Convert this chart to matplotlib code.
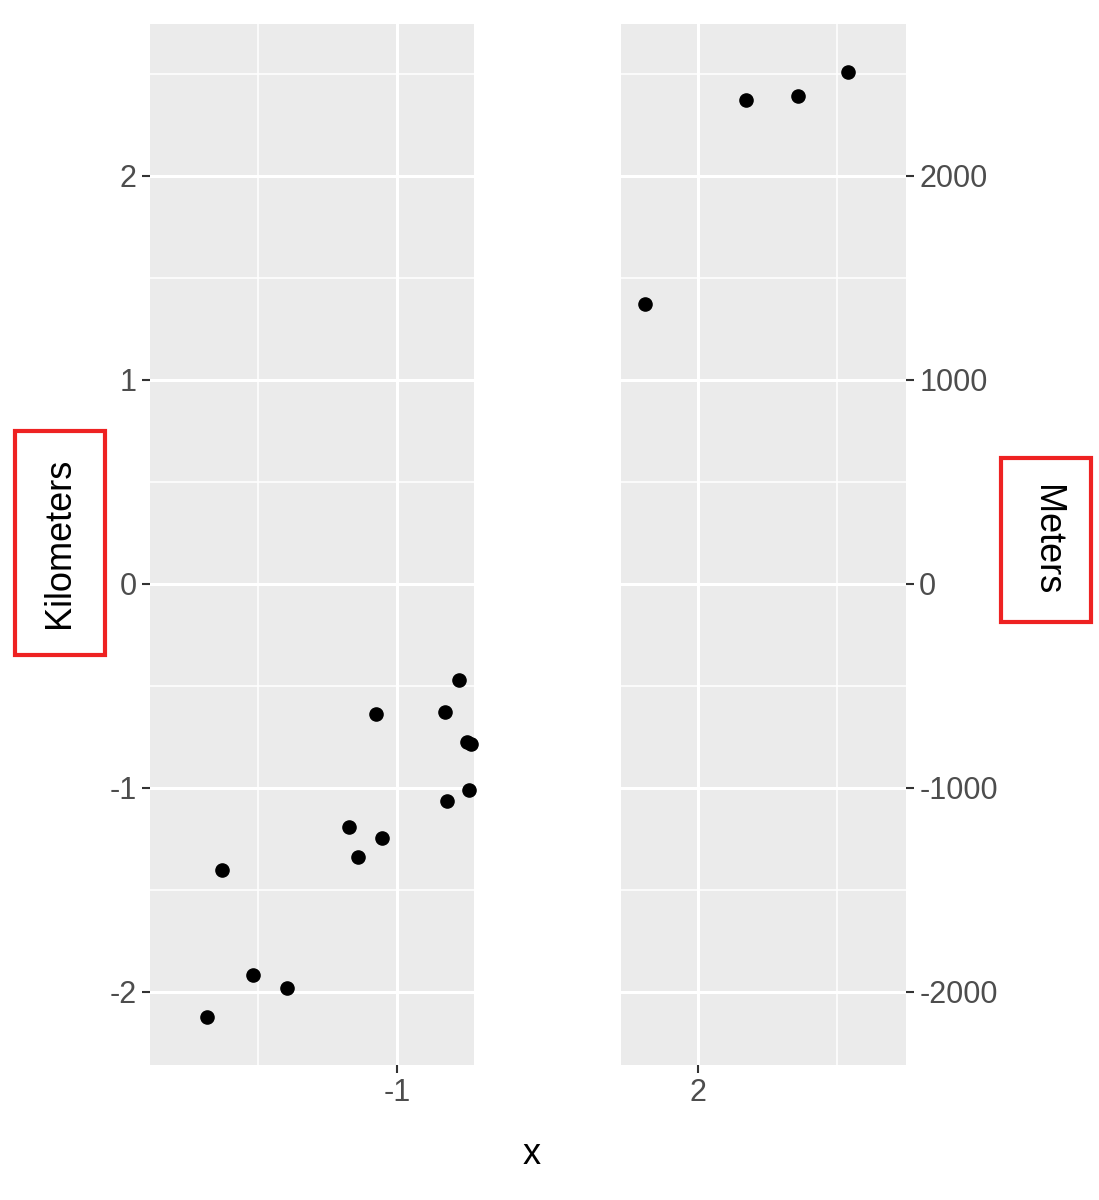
import numpy as np
import matplotlib.pyplot as plt

plt.rcParams["font.family"] = ["Liberation Sans", "DejaVu Sans"]
plt.rcParams["axes.unicode_minus"] = False

x_left = [-1.683, -1.629, -1.518, -1.396, -1.173, -1.140, -1.076, -1.054, -0.827, -0.820, -0.777, -0.748, -0.734, -0.741]
y_left = [-2.123, -1.402, -1.917, -1.980, -1.191, -1.338, -0.637, -1.245, -0.627, -1.064, -0.471, -0.775, -0.784, -1.010]
x_right = [1.809, 2.173, 2.360, 2.540]
y_right = [1.373, 2.373, 2.392, 2.510]

ylim = (-2.358, 2.745)
W, H = 1099, 1200
fig = plt.figure(figsize=(W / 100, H / 100), dpi=100)
bottom, height = (H - 1065) / H, 1041 / H
ax1 = fig.add_axes([150 / W, bottom, 324 / W, height])
ax2 = fig.add_axes([621 / W, bottom, 285 / W, height])

def style(ax, xlim, xmaj, xmin):
    ax.set_facecolor("#EBEBEB")
    ax.set_xlim(xlim)
    ax.set_ylim(ylim)
    ax.set_xticks(xmaj)
    ax.set_xticks(xmin, minor=True)
    ax.set_yticks([-2, -1, 0, 1, 2])
    ax.set_yticks([-1.5, -0.5, 0.5, 1.5, 2.5], minor=True)
    ax.grid(True, which="major", color="white", lw=2.2)
    ax.grid(True, which="minor", color="white", lw=1.1)
    ax.set_axisbelow(True)
    for s in ax.spines.values():
        s.set_visible(False)
    ax.tick_params(which="major", length=6, width=1.5, color="#333333",
                   labelsize=22, labelcolor="#4D4D4D")
    ax.tick_params(which="minor", length=0)

style(ax1, (-1.889, -0.723), [-1], [-1.5])
style(ax2, (1.723, 2.748), [2], [2.5])
ax2.tick_params(axis="y", which="both", left=False, labelleft=False, length=0)

ax1.scatter(x_left, y_left, s=90, color="black", zorder=3, clip_on=False)
ax2.scatter(x_right, y_right, s=90, color="black", zorder=3, clip_on=False)

sec = ax2.twinx()
sec.set_ylim(ylim[0] * 1000, ylim[1] * 1000)
sec.set_yticks([-2000, -1000, 0, 1000, 2000])
for s in sec.spines.values():
    s.set_visible(False)
sec.tick_params(length=6, width=1.5, color="#333333", labelsize=22, labelcolor="#4D4D4D")

box = dict(boxstyle="square,pad=0.75", fc="white", ec="#EE2222", lw=3)
fig.text(60 / W, 1 - 543 / H, "Kilometers", rotation=90, ha="center", va="center", fontsize=26, bbox=box)
fig.text(1046 / W, 1 - 540 / H, "Meters", rotation=-90, ha="center", va="center", fontsize=26, bbox=box)
fig.text(532 / W, 1 - 1155 / H, "x", ha="center", va="center", fontsize=26)

fig.savefig("out.png", dpi=100)
